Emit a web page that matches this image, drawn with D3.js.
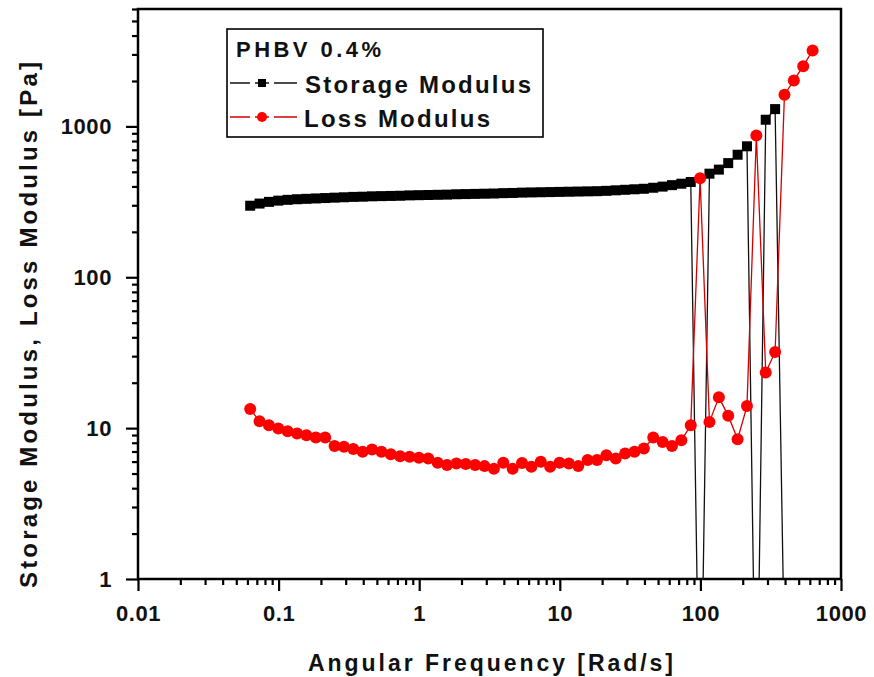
<!DOCTYPE html>
<html>
<head>
<meta charset="utf-8">
<script src="https://cdn.jsdelivr.net/npm/d3@7/dist/d3.min.js"></script>
<style>
  html, body { margin: 0; padding: 0; background: #fff; }
  svg { display: block; }
  text { font-family: "Liberation Sans", Arial, sans-serif; font-weight: bold; fill: #111; }
</style>
</head>
<body>
<svg id="chart" width="874" height="677"></svg>
<script>
// ---- data ----
const freq = [
  0.0628, 0.0732, 0.0854, 0.0995, 0.116, 0.1353, 0.1577, 0.1839, 0.2144, 0.25, 0.2915, 0.3399, 0.3962, 0.462, 0.5386,
  0.628, 0.732, 0.854, 0.995, 1.16, 1.353, 1.577, 1.839, 2.144, 2.5, 2.915, 3.399, 3.962, 4.62, 5.386,
  6.28, 7.32, 8.54, 9.95, 11.6, 13.53, 15.77, 18.39, 21.44, 25.0, 29.15, 33.99, 39.62, 46.2, 53.86,
  62.8, 73.2, 85.4, 99.5, 116, 135.3, 157.7, 183.9, 214.4, 250, 291.5, 339.9, 396.2, 462, 538.6,
  628
];
const storageModulus = [
  298, 308, 316, 322, 326, 329, 331, 333, 335, 337, 339, 341, 342, 344, 345,
  346, 347, 349, 350, 351, 352, 353, 355, 356, 357, 358, 359, 361, 362, 364,
  365, 366, 367, 368, 369, 370, 371, 372, 374, 377, 380, 383, 386, 392, 399,
  408, 417, 428, 0.05, 486, 517, 571, 649, 738, 0.05, 1107, 1302, 0.3, 0.2, 0.1,
  0.1
];
const lossModulus = [
  13.4, 11.1, 10.45, 9.95, 9.55, 9.22, 8.98, 8.67, 8.67, 7.6, 7.52, 7.26, 6.97, 7.23, 6.97,
  6.72, 6.5, 6.45, 6.36, 6.3, 5.9, 5.69, 5.83, 5.78, 5.69, 5.6, 5.37, 5.9, 5.37, 5.88,
  5.54, 5.98, 5.54, 5.9, 5.83, 5.6, 6.15, 6.15, 6.62, 6.3, 6.8, 6.97, 7.33, 8.67, 8.1,
  7.6, 8.3, 10.45, 453, 11.0, 16.0, 12.1, 8.45, 14.0, 871, 23.4, 32.0, 1623, 2018, 2508,
  3186
];
const xTicks = [0.01, 0.1, 1, 10, 100, 1000];
const xTickLabels = ["0.01", "0.1", "1", "10", "100", "1000"];
const yTicks = [1, 10, 100, 1000];
const yTickLabels = ["1", "10", "100", "1000"];
const seriesNames = ["Storage Modulus", "Loss Modulus"];
const legendTitle = "PHBV 0.4%";
const xTitle = "Angular Frequency [Rad/s]";
const yTitle = "Storage Modulus, Loss Modulus [Pa]";

// ---- layout ----
const L = 138, R = 841, T = 9, B = 579;
const svg = d3.select("#chart");

const x = d3.scaleLog().domain([0.01, 1000]).range([L, R]);
const y = d3.scaleLog().domain([1, 6000]).range([B, T]);

// minor tick values
const xMinor = [];
for (let e = -2; e < 3; e++) for (let m = 2; m <= 9; m++) xMinor.push(m * Math.pow(10, e));
const yMinor = [];
for (let e = 0; e < 4; e++) for (let m = 2; m <= 9; m++) { const v = m * Math.pow(10, e); if (v <= 6000) yMinor.push(v); }

svg.append("defs").append("clipPath").attr("id", "plotclip")
  .append("rect").attr("x", L).attr("y", T).attr("width", R - L).attr("height", B - T);

// ---- axes ----
const xAxis = d3.axisBottom(x).tickValues(xTicks)
  .tickFormat((d, i) => xTickLabels[i]).tickSize(12).tickPadding(14);
const xAxisMinor = d3.axisBottom(x).tickValues(xMinor).tickFormat("").tickSize(6);
const yAxis = d3.axisLeft(y).tickValues(yTicks)
  .tickFormat((d, i) => yTickLabels[i]).tickSize(12).tickPadding(14);
const yAxisMinor = d3.axisLeft(y).tickValues(yMinor).tickFormat("").tickSize(6);

function styleAxis(g) {
  g.select(".domain").remove();
  g.selectAll("line").attr("stroke", "#000").attr("stroke-width", 2.2);
  g.selectAll("text").attr("font-size", 22).attr("letter-spacing", "0.6px")
    .style("font-family", '"Liberation Sans", Arial, sans-serif').style("font-weight", "bold").attr("fill", "#111");
}
svg.append("g").attr("transform", `translate(0,${B})`).call(xAxisMinor).call(styleAxis);
svg.append("g").attr("transform", `translate(0,${B})`).call(xAxis).call(styleAxis);
svg.append("g").attr("transform", `translate(${L},0)`).call(yAxisMinor).call(styleAxis);
svg.append("g").attr("transform", `translate(${L},0)`).call(yAxis).call(styleAxis);

// frame
svg.append("rect").attr("x", L).attr("y", T).attr("width", R - L).attr("height", B - T)
  .attr("fill", "none").attr("stroke", "#000").attr("stroke-width", 2.5);

// ---- series ----
const plot = svg.append("g").attr("clip-path", "url(#plotclip)");
const line = d3.line().x((d, i) => x(freq[i])).y(d => y(d));

plot.append("path").datum(storageModulus).attr("d", line)
  .attr("fill", "none").attr("stroke", "#111").attr("stroke-width", 1.3);
plot.selectAll("rect.sq").data(storageModulus).enter().append("rect").attr("class", "sq")
  .attr("x", (d, i) => x(freq[i]) - 5).attr("y", d => y(d) - 5)
  .attr("width", 10).attr("height", 10).attr("fill", "#000");

plot.append("path").datum(lossModulus).attr("d", line)
  .attr("fill", "none").attr("stroke", "#d40000").attr("stroke-width", 1.3);
plot.selectAll("circle.ci").data(lossModulus).enter().append("circle").attr("class", "ci")
  .attr("cx", (d, i) => x(freq[i])).attr("cy", d => y(d)).attr("r", 6).attr("fill", "#ff0000");

// ---- axis titles ----
svg.append("text").attr("x", 308).attr("y", 671).attr("font-size", 23)
  .attr("textLength", 365).attr("lengthAdjust", "spacing").text(xTitle);
svg.append("text").attr("transform", "translate(37,588) rotate(-90)").attr("x", 0).attr("y", 0)
  .attr("font-size", 24).attr("textLength", 526).attr("lengthAdjust", "spacing").text(yTitle);

// ---- legend ----
const lg = svg.append("g");
lg.append("rect").attr("x", 227).attr("y", 29).attr("width", 316).attr("height", 108)
  .attr("fill", "#fff").attr("stroke", "#000").attr("stroke-width", 1.6);
lg.append("text").attr("x", 236).attr("y", 57).attr("font-size", 22)
  .attr("textLength", 145).attr("lengthAdjust", "spacing").text(legendTitle);
// storage entry
lg.append("line").attr("x1", 230).attr("x2", 297).attr("y1", 83).attr("y2", 83)
  .attr("stroke", "#111").attr("stroke-width", 1.3);
lg.append("line").attr("x1", 250).attr("x2", 255).attr("y1", 83).attr("y2", 83).attr("stroke", "#fff").attr("stroke-width", 3);
lg.append("line").attr("x1", 269).attr("x2", 274).attr("y1", 83).attr("y2", 83).attr("stroke", "#fff").attr("stroke-width", 3);
lg.append("rect").attr("x", 258).attr("y", 79).attr("width", 8).attr("height", 8).attr("fill", "#000");
lg.append("text").attr("x", 305).attr("y", 93).attr("font-size", 24)
  .attr("textLength", 226).attr("lengthAdjust", "spacing").text(seriesNames[0]);
// loss entry
lg.append("line").attr("x1", 230).attr("x2", 297).attr("y1", 117).attr("y2", 117)
  .attr("stroke", "#d40000").attr("stroke-width", 1.3);
lg.append("line").attr("x1", 250).attr("x2", 255).attr("y1", 117).attr("y2", 117).attr("stroke", "#fff").attr("stroke-width", 3);
lg.append("line").attr("x1", 269).attr("x2", 274).attr("y1", 117).attr("y2", 117).attr("stroke", "#fff").attr("stroke-width", 3);
lg.append("circle").attr("cx", 262).attr("cy", 117).attr("r", 5).attr("fill", "#ff0000");
lg.append("text").attr("x", 304).attr("y", 127).attr("font-size", 24)
  .attr("textLength", 186).attr("lengthAdjust", "spacing").text(seriesNames[1]);
</script>
</body>
</html>
